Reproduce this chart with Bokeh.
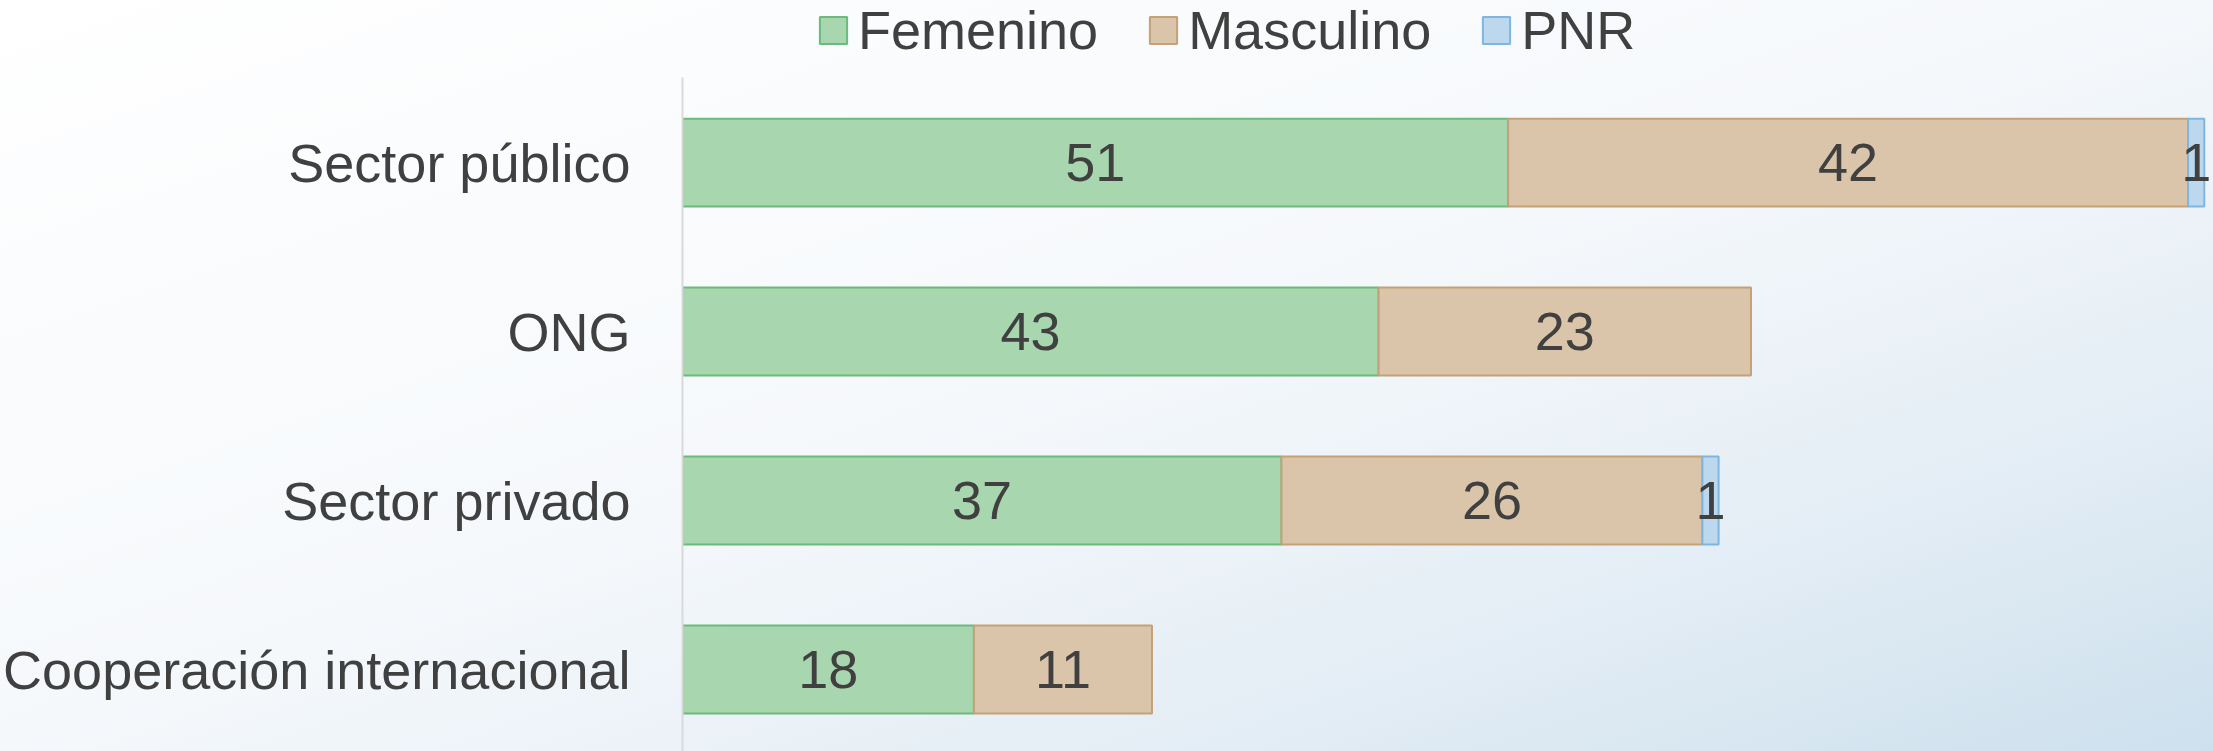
import numpy as np
from bokeh.plotting import figure
from bokeh.models import ColumnDataSource, Range1d, FixedTicker, Legend, LegendItem
from bokeh.core.properties import value
from bokeh.embed import file_html
from bokeh.resources import INLINE

categories = ["Sector público", "ONG", "Sector privado", "Cooperación internacional"]
femenino = [51, 43, 37, 18]
masculino = [42, 23, 26, 11]
pnr = [1, 0, 1, 0]
series_names = ["Femenino", "Masculino", "PNR"]

fills = ["#a7d6af", "#dbc5aa", "#bcd8ee"]
lines = ["#6cba7c", "#c4a178", "#80b6de"]
FONT = "Liberation Sans"
TXT = "#404040"

n = len(categories)
ypos = [n - 1 - i for i in range(n)]

p = figure(width=2213, height=751, output_backend="svg", toolbar_location=None,
           x_range=Range1d(0, 94.57), y_range=Range1d(-0.485, 3.959),
           min_border_left=679, min_border_right=0, min_border_top=0, min_border_bottom=0)
p.background_fill_alpha = 0
p.border_fill_alpha = 0
p.outline_line_color = None
p.styles = {"background": "linear-gradient(to bottom right, #ffffff 0%, #f5f8fb 50%, #e3edf5 77%, #cde0ed 100%)"}
p.grid.visible = False
p.xaxis.visible = False

ax = p.yaxis[0]
ax.bounds = (-0.485, 3.503)
ax.ticker = FixedTicker(ticks=ypos)
ax.major_label_overrides = {y: c for y, c in zip(ypos, categories)}
ax.major_tick_line_color = None
ax.minor_tick_line_color = None
ax.axis_line_color = "#d9d9d9"
ax.axis_line_width = 2
ax.major_label_text_font = FONT
ax.major_label_text_font_size = "54px"
ax.major_label_text_color = TXT
ax.major_label_standoff = 46

data = np.array([femenino, masculino, pnr], dtype=float)
cum = np.cumsum(data, axis=0)
items = []
lab_x, lab_y, lab_t = [], [], []
for k in range(3):
    right = cum[k]
    left = right - data[k]
    keep = [i for i in range(n) if data[k][i] > 0]
    src = ColumnDataSource(dict(y=[ypos[i] for i in keep], left=[left[i] for i in keep],
                                right=[right[i] for i in keep]))
    r = p.hbar(y="y", left="left", right="right", height=0.52, source=src,
               fill_color=fills[k], line_color=lines[k], line_width=2)
    items.append(LegendItem(label=series_names[k], renderers=[r]))
    for i in keep:
        lab_x.append((left[i] + right[i]) / 2)
        lab_y.append(ypos[i])
        lab_t.append(str(int(data[k][i])))

p.text(x=lab_x, y=lab_y, text=lab_t, text_align="center", text_baseline="middle",
       text_font=value(FONT), text_font_size="54px", text_color=TXT)

legend = Legend(items=items, orientation="horizontal", location=(134, 690),
                background_fill_alpha=0, border_line_color=None,
                padding=0, margin=0, spacing=48, glyph_width=34, glyph_height=34,
                label_standoff=8, label_text_font=FONT, label_text_font_size="54px",
                label_text_color=TXT)
p.add_layout(legend, "center")

open("out.html", "w").write(file_html(p, INLINE))
